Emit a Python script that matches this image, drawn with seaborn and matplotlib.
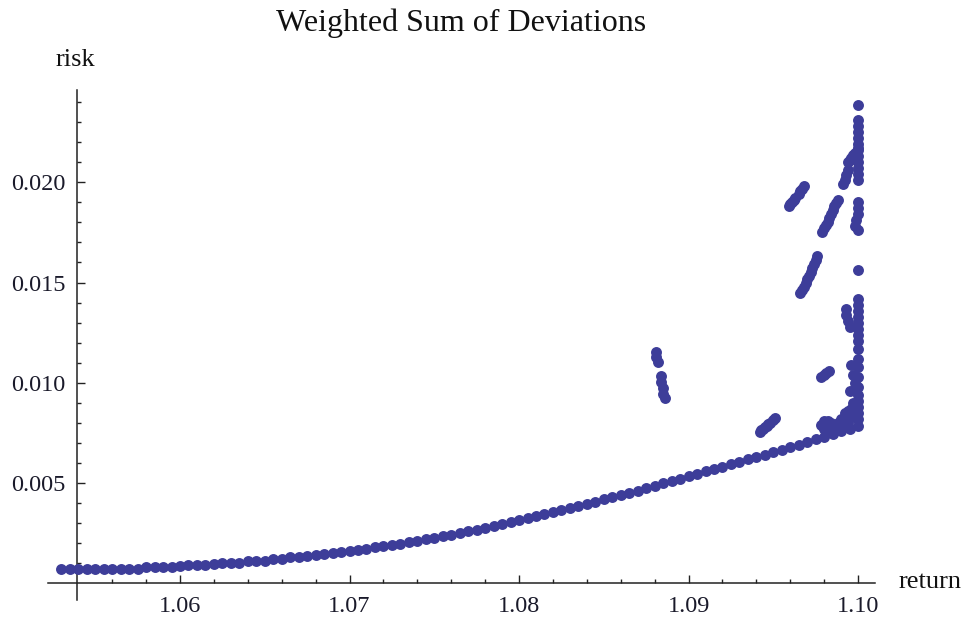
import numpy as np
import matplotlib
matplotlib.use("Agg")
import matplotlib.pyplot as plt
import seaborn as sns
from matplotlib.ticker import FixedLocator, FormatStrFormatter

# efficient frontier (return, risk)
curve_return = [
    1.0530, 1.0535, 1.0540, 1.0545, 1.0550, 1.0555, 1.0560, 1.0565, 1.0570, 1.0575,
    1.0580, 1.0585, 1.0590, 1.0595, 1.0600, 1.0605, 1.0610, 1.0615, 1.0620, 1.0625,
    1.0630, 1.0635, 1.0640, 1.0645, 1.0650, 1.0655, 1.0660, 1.0665, 1.0670, 1.0675,
    1.0680, 1.0685, 1.0690, 1.0695, 1.0700, 1.0705, 1.0710, 1.0715, 1.0720, 1.0725,
    1.0730, 1.0735, 1.0740, 1.0745, 1.0750, 1.0755, 1.0760, 1.0765, 1.0770, 1.0775,
    1.0780, 1.0785, 1.0790, 1.0795, 1.0800, 1.0805, 1.0810, 1.0815, 1.0820, 1.0825,
    1.0830, 1.0835, 1.0840, 1.0845, 1.0850, 1.0855, 1.0860, 1.0865, 1.0870, 1.0875,
    1.0880, 1.0885, 1.0890, 1.0895, 1.0900, 1.0905, 1.0910, 1.0915, 1.0920, 1.0925,
    1.0930, 1.0935, 1.0940, 1.0945, 1.0950, 1.0955, 1.0960, 1.0965, 1.0970, 1.0975,
    1.0980, 1.0985, 1.0990, 1.0995, 1.1000]
curve_risk = [
    0.00070, 0.00070, 0.00070, 0.00070, 0.00070, 0.00071, 0.00071, 0.00071, 0.00072, 0.00072,
    0.00080, 0.00080, 0.00081, 0.00082, 0.00088, 0.00089, 0.00090, 0.00091, 0.00097, 0.00099,
    0.00100, 0.00102, 0.00109, 0.00111, 0.00113, 0.00120, 0.00123, 0.00130, 0.00133, 0.00137,
    0.00141, 0.00148, 0.00152, 0.00157, 0.00162, 0.00167, 0.00173, 0.00179, 0.00185, 0.00191,
    0.00198, 0.00205, 0.00212, 0.00219, 0.00227, 0.00235, 0.00243, 0.00251, 0.00259, 0.00268,
    0.00277, 0.00286, 0.00295, 0.00304, 0.00314, 0.00324, 0.00334, 0.00344, 0.00354, 0.00364,
    0.00374, 0.00385, 0.00396, 0.00407, 0.00418, 0.00429, 0.00440, 0.00451, 0.00462, 0.00474,
    0.00486, 0.00498, 0.00510, 0.00522, 0.00534, 0.00546, 0.00558, 0.00570, 0.00582, 0.00594,
    0.00606, 0.00618, 0.00630, 0.00642, 0.00654, 0.00666, 0.00679, 0.00692, 0.00705, 0.00718,
    0.00731, 0.00744, 0.00757, 0.00770, 0.00784]

# scattered portfolios above the frontier
cluster_return = [1.0881, 1.0881, 1.0882, 1.0884, 1.0884, 1.0885, 1.0885, 1.0886]
cluster_risk = [0.01155, 0.01130, 0.01105, 0.01035, 0.01005, 0.00975, 0.00945, 0.00925]

streak_return = [
    1.0942, 1.0943, 1.0944, 1.0945, 1.0946, 1.0947, 1.0948, 1.0950, 1.0951,
    1.0959, 1.0960, 1.0961, 1.0962, 1.0963, 1.0965, 1.0966, 1.0967, 1.0968,
    1.0966, 1.0967, 1.0968, 1.0969, 1.0970, 1.0971, 1.0972, 1.0973, 1.0974, 1.0975, 1.0976,
    1.0979, 1.0980, 1.0981, 1.0982, 1.0983, 1.0984, 1.0985, 1.0986, 1.0987, 1.0988,
    1.0991, 1.0992, 1.0993, 1.0994,
    1.0994, 1.0995, 1.0996, 1.0997, 1.0998, 1.1000,
    1.0978, 1.0980, 1.0981, 1.0983]
streak_risk = [
    0.00755, 0.00763, 0.00770, 0.00778, 0.00785, 0.00793, 0.00800, 0.00815, 0.00825,
    0.01880, 0.01890, 0.01900, 0.01910, 0.01920, 0.01940, 0.01955, 0.01965, 0.01980,
    0.01450, 0.01465, 0.01480, 0.01500, 0.01515, 0.01530, 0.01550, 0.01570, 0.01590, 0.01610, 0.01630,
    0.01750, 0.01770, 0.01785, 0.01800, 0.01820, 0.01840, 0.01860, 0.01880, 0.01895, 0.01910,
    0.01990, 0.02010, 0.02035, 0.02060,
    0.02100, 0.02110, 0.02120, 0.02135, 0.02145, 0.02170,
    0.01030, 0.01040, 0.01050, 0.01060]

edge_return = [
    1.1000, 1.1000, 1.1000, 1.1000, 1.1000, 1.1000, 1.1000, 1.1000, 1.1000, 1.1000, 1.1000, 1.1000,
    1.1000, 1.1000, 1.1000, 1.0999, 1.0998, 1.1000,
    1.1000,
    1.1000, 1.1000, 1.1000, 1.1000, 1.1000, 1.1000, 1.1000, 1.1000,
    1.0993, 1.0993, 1.0994, 1.0995,
    1.1000, 1.1000, 1.0996, 1.1000, 1.0997, 1.1000, 1.0998, 1.1000, 1.0995, 1.1000,
    1.0978, 1.0980, 1.0982, 1.0984, 1.0986, 1.0988, 1.0990, 1.0992, 1.0994, 1.0996,
    1.0998, 1.1000, 1.1000, 1.1000, 1.0996, 1.0992, 1.0980, 1.0984,
    1.0988, 1.0990, 1.0994, 1.0998, 1.1000, 1.0997, 1.0993, 1.0986]
edge_risk = [
    0.02385, 0.02310, 0.02280, 0.02250, 0.02220, 0.02190, 0.02160, 0.02130, 0.02100, 0.02070, 0.02040, 0.02010,
    0.01900, 0.01870, 0.01840, 0.01810, 0.01780, 0.01760,
    0.01560,
    0.01420, 0.01390, 0.01360, 0.01330, 0.01300, 0.01270, 0.01240, 0.01210,
    0.01370, 0.01340, 0.01310, 0.01280,
    0.01170, 0.01120, 0.01090, 0.01080, 0.01040, 0.01030, 0.01000, 0.00980, 0.00960, 0.00940,
    0.00790, 0.00810, 0.00810, 0.00800, 0.00780, 0.00800, 0.00820, 0.00850, 0.00860, 0.00870,
    0.00880, 0.00880, 0.00850, 0.00820, 0.00830, 0.00820, 0.00770, 0.00770,
    0.00770, 0.00790, 0.00800, 0.00830, 0.00910, 0.00900, 0.00840, 0.00790]

all_return = curve_return + cluster_return + streak_return + edge_return
all_risk = curve_risk + cluster_risk + streak_risk + edge_risk

sns.set_style("white")
plt.rcParams["font.family"] = ["Liberation Serif", "DejaVu Serif"]

fig = plt.figure(figsize=(9.71, 6.19), dpi=100)
ax = fig.add_axes([48 / 971, 19 / 619, 827 / 971, 510 / 619])

point_color = "#3d3d99"
sns.scatterplot(x=all_return, y=all_risk, color=point_color, s=62,
                linewidth=0, ax=ax, zorder=3)

ax.set_xlim(1.052212, 1.100997)
ax.set_ylim(-0.000833, 0.0246)

# mathematica-style axes crossing inside the frame
ax.spines["top"].set_visible(False)
ax.spines["right"].set_visible(False)
ax.spines["left"].set_position(("data", 1.053906))
ax.spines["bottom"].set_position(("data", 0.0))
for side in ["left", "bottom"]:
    ax.spines[side].set_color("#222222")
    ax.spines[side].set_linewidth(1.1)

ax.xaxis.set_major_locator(FixedLocator([1.06, 1.07, 1.08, 1.09, 1.10]))
ax.xaxis.set_minor_locator(FixedLocator([1.056, 1.058, 1.062, 1.064, 1.066, 1.068,
                                         1.072, 1.074, 1.076, 1.078, 1.082, 1.084,
                                         1.086, 1.088, 1.092, 1.094, 1.096, 1.098]))
ax.yaxis.set_major_locator(FixedLocator([0.005, 0.010, 0.015, 0.020]))
ax.yaxis.set_minor_locator(FixedLocator([0.001, 0.002, 0.003, 0.004, 0.006, 0.007,
                                         0.008, 0.009, 0.011, 0.012, 0.013, 0.014,
                                         0.016, 0.017, 0.018, 0.019, 0.021, 0.022,
                                         0.023, 0.024]))
ax.xaxis.set_major_formatter(FormatStrFormatter("%.2f"))
ax.yaxis.set_major_formatter(FormatStrFormatter("%.3f"))

ax.tick_params(which="major", direction="in", length=6, width=1, color="#222222",
               labelsize=17.5, labelcolor="#1a1a2a")
ax.tick_params(axis="x", which="major", pad=9)
ax.tick_params(axis="y", which="major", pad=8)
ax.tick_params(which="minor", direction="in", length=3, width=1, color="#222222")
ax.tick_params(axis="x", which="both", bottom=True, top=False)
ax.tick_params(axis="y", which="both", left=True, right=False)

fig.text(461 / 971, 1 - 23 / 619, "Weighted Sum of Deviations", ha="center",
         va="center", fontsize=23, color="#111111")
fig.text(75 / 971, 1 - 60 / 619, "risk", ha="center", va="center",
         fontsize=19, color="#111111")
fig.text(930 / 971, 1 - 582 / 619, "return", ha="center", va="center",
         fontsize=19, color="#111111")

fig.savefig("out.png", dpi=100)
